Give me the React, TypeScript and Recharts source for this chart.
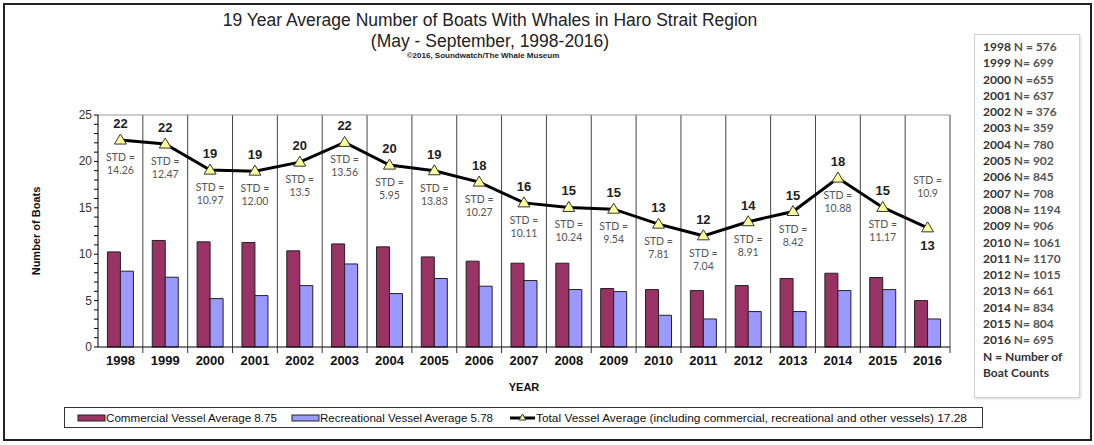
import React from 'react';
import { ComposedChart, Bar, Line, XAxis, YAxis, CartesianGrid, ReferenceLine } from 'recharts';

const years = ['1998', '1999', '2000', '2001', '2002', '2003', '2004', '2005', '2006', '2007', '2008', '2009', '2010', '2011', '2012', '2013', '2014', '2015', '2016'];
const commercial = [10.25, 11.48, 11.33, 11.26, 10.36, 11.11, 10.79, 9.71, 9.25, 9.03, 9.03, 6.3, 6.19, 6.08, 6.62, 7.38, 7.95, 7.49, 5.0];
const recreational = [8.17, 7.52, 5.22, 5.54, 6.62, 8.95, 5.76, 7.38, 6.55, 7.16, 6.19, 5.97, 3.42, 3.02, 3.82, 3.82, 6.08, 6.19, 3.02];
const total = [22.3, 21.87, 19.06, 18.95, 19.92, 22.05, 19.6, 18.99, 17.77, 15.53, 15.04, 14.85, 13.24, 11.98, 13.5, 14.6, 18.2, 15.04, 12.84];
const stdDev = ['14.26', '12.47', '10.97', '12.00', '13.5', '13.56', '5.95', '13.83', '10.27', '10.11', '10.24', '9.54', '7.81', '7.04', '8.91', '8.42', '10.88', '11.17', '10.9'];
const boatCounts = ['N = 576', 'N= 699', 'N =655', 'N= 637', 'N = 376', 'N= 359', 'N= 780', 'N= 902', 'N= 845', 'N= 708', 'N= 1194', 'N= 906', 'N= 1061', 'N= 1170', 'N= 1015', 'N= 661', 'N= 834', 'N= 804', 'N= 695'];
const yTicks = [0, 1, 2, 3, 4, 5, 6, 7, 8, 9, 10, 11, 12, 13, 14, 15, 16, 17, 18, 19, 20, 21, 22, 23, 24, 25];

const data = years.map((y, i) => ({
  year: y,
  commercial: commercial[i],
  recreational: recreational[i],
  total: total[i],
  std: stdDev[i],
}));

const ARIAL = '"Liberation Sans", Arial, sans-serif';
const NARROW = '"Liberation Sans Narrow", "Arial Narrow", "Liberation Sans", sans-serif';
const CALIBRI = 'Lato, "Open Sans", sans-serif';

function TriangleDot(props: any) {
  const { cx, cy, index } = props;
  if (cx == null || cy == null) return null;
  return (
    <path
      key={`tri-${index}`}
      d={`M${cx},${cy - 6} L${cx + 6},${cy + 4} L${cx - 6},${cy + 4} Z`}
      fill="#FFFF99"
      stroke="#333"
      strokeWidth={1}
    />
  );
}

function LineLabel(props: any) {
  const { x, y, index, value } = props;
  const last = index === years.length - 1;
  const std = stdDev[index];
  const valY = last ? y + 22 : y - 12;
  const stdY = last ? y - 44 : y + 21;
  return (
    <g key={`lbl-${index}`}>
      <text x={x} y={valY} textAnchor="middle" fontFamily={ARIAL} fontWeight="bold" fontSize={13} fill="#222">
        {Math.round(value)}
      </text>
      <text x={x} y={stdY} textAnchor="middle" fontFamily={CALIBRI} fontSize={10.5} fill="#555">
        STD =
      </text>
      <text x={x} y={stdY + 13} textAnchor="middle" fontFamily={CALIBRI} fontSize={10.5} fill="#555">
        {std}
      </text>
    </g>
  );
}

function YTick(props: any) {
  const { x, y, payload } = props;
  if (payload.value % 5 !== 0) return null;
  return (
    <text x={x} y={y} dy={4} textAnchor="end" fontFamily={ARIAL} fontSize={12} fill="#333">
      {payload.value}
    </text>
  );
}

function XTick(props: any) {
  const { x, y, payload } = props;
  const half = payload.offset || 22.4;
  return (
    <g>
      <line x1={x + half} x2={x + half} y1={y - 8} y2={y - 2} stroke="#333" />
      <text x={x} y={y + 10} textAnchor="middle" fontFamily={ARIAL} fontWeight="bold" fontSize={13} fill="#111">
        {payload.value}
      </text>
    </g>
  );
}

function BottomLegend() {
  return (
    <svg width={920} height={22} style={{ position: 'absolute', left: 64, top: 407 }}>
      <rect x={0.5} y={0.5} width={918} height={20} fill="#fff" stroke="#333" />
      <rect x={14} y={8} width={27} height={6} fill="#993366" stroke="#222" strokeWidth={1} />
      <text x={42} y={15} fontFamily={NARROW} fontSize={11} fill="#111" textLength={171} lengthAdjust="spacingAndGlyphs">
        Commercial Vessel Average 8.75
      </text>
      <rect x={228} y={8} width={27} height={6} fill="#9999FF" stroke="#222" strokeWidth={1} />
      <text x={256} y={15} fontFamily={NARROW} fontSize={11} fill="#111" textLength={173} lengthAdjust="spacingAndGlyphs">
        Recreational Vessel  Average 5.78
      </text>
      <line x1={446} x2={471} y1={11} y2={11} stroke="#000" strokeWidth={3} />
      <path d="M458.5,7 L462,13 L455,13 Z" fill="#FFFF99" stroke="#333" strokeWidth={1} />
      <text x={472} y={15} fontFamily={NARROW} fontSize={11} fill="#111" textLength={431} lengthAdjust="spacingAndGlyphs">
        Total Vessel Average  (including commercial, recreational  and other vessels) 17.28
      </text>
    </svg>
  );
}

function CountBox() {
  return (
    <div
      style={{
        position: 'absolute', left: 974, top: 34, width: 106, height: 364, boxSizing: 'border-box',
        border: '1px solid #cfcfcf', boxShadow: '1px 1px 2px rgba(0,0,0,0.15)', background: '#fff',
        fontFamily: CALIBRI, fontWeight: 'bold', fontSize: 12, lineHeight: '16.3px', color: '#333',
        paddingTop: 4, paddingLeft: 8,
      }}
    >
      {years.map((y, i) => (
        <div key={y}>
          {y} <span style={{ color: '#555' }}>{boatCounts[i]}</span>
        </div>
      ))}
      <div>N = Number of</div>
      <div>Boat Counts</div>
    </div>
  );
}

export default function App() {
  return (
    <div style={{ position: 'absolute', left: 0, top: 0, width: 1094, height: 445, background: '#fff', overflow: 'hidden' }}>
      <div style={{ position: 'absolute', left: 3, top: 3, width: 1089, height: 438, boxSizing: 'border-box', border: '2px solid #222' }} />
      <div style={{ position: 'absolute', left: 0, top: 10, width: 980, textAlign: 'center', fontFamily: ARIAL, fontSize: 17.5, color: '#222', lineHeight: '21px' }}>
        19 Year Average Number of Boats With Whales in Haro Strait Region
        <br />
        (May - September, 1998-2016)
      </div>
      <div style={{ position: 'absolute', left: 0, top: 51, width: 966, textAlign: 'center', fontFamily: ARIAL, fontSize: 8, fontWeight: 'bold', color: '#222' }}>
        ©2016, Soundwatch/The Whale Museum
      </div>

      <div style={{ position: 'absolute', left: 0, top: 0 }}>
        <ComposedChart
          width={1094}
          height={445}
          data={data}
          margin={{ top: 115, right: 144, bottom: 68, left: 58 }}
          barGap={0}
          barCategoryGap="21%"
        >
          <CartesianGrid
            horizontal={false}
            stroke="#444"
            verticalCoordinatesGenerator={({ offset }: any) =>
              years.map((_, i) => offset.left + ((i + 1) * offset.width) / years.length)
            }
          />
          <ReferenceLine y={25} stroke="#999" strokeWidth={1} />
          <XAxis
            dataKey="year"
            axisLine={{ stroke: '#000' }}
            tickLine={false}
            tick={<XTick />}
            height={30}
            interval={0}
            label={{ value: 'YEAR', position: 'insideBottom', offset: -14, fontFamily: ARIAL, fontWeight: 'bold', fontSize: 11, fill: '#111' }}
          />
          <YAxis
            domain={[0, 25]}
            ticks={yTicks}
            interval={0}
            width={40}
            axisLine={{ stroke: '#000' }}
            tickLine={{ stroke: '#000' }}
            tickSize={4}
            tick={<YTick />}
            label={{ value: 'Number of Boats', angle: -90, position: 'insideLeft', offset: -22, fontFamily: ARIAL, fontWeight: 'bold', fontSize: 11, fill: '#111', style: { textAnchor: 'middle' } }}
          />
          <Bar dataKey="commercial" fill="#993366" stroke="#222" strokeWidth={1} isAnimationActive={false} />
          <Bar dataKey="recreational" fill="#9999FF" stroke="#222" strokeWidth={1} isAnimationActive={false} />
          <Line
            type="linear"
            dataKey="total"
            stroke="#000"
            strokeWidth={3}
            dot={<TriangleDot />}
            activeDot={false}
            label={<LineLabel />}
            isAnimationActive={false}
          />
        </ComposedChart>
      </div>

      <BottomLegend />
      <CountBox />
    </div>
  );
}
